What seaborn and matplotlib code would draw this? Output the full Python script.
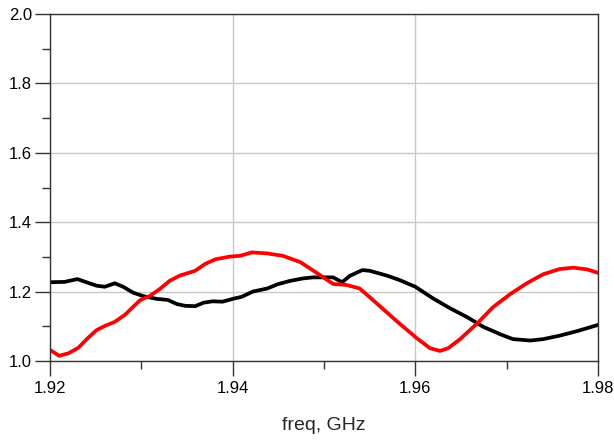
import numpy as np
import pandas as pd
import matplotlib
matplotlib.use("Agg")
import matplotlib.pyplot as plt
import seaborn as sns
from matplotlib.ticker import MultipleLocator

black_freq = [1.9200, 1.9216, 1.9230, 1.9241, 1.9251, 1.9260, 1.9271, 1.9280, 1.9291, 1.9302,
              1.9317, 1.9329, 1.9339, 1.9348, 1.9359, 1.9368, 1.9378, 1.9389, 1.9400, 1.9410,
              1.9422, 1.9438, 1.9449, 1.9463, 1.9477, 1.9488, 1.9510, 1.9520, 1.9528, 1.9542,
              1.9550, 1.9569, 1.9583, 1.9600, 1.9619, 1.9638, 1.9657, 1.9674, 1.9693, 1.9707,
              1.9726, 1.9740, 1.9758, 1.9777, 1.9800]
black_vals = [1.227, 1.228, 1.236, 1.226, 1.217, 1.214, 1.224, 1.214, 1.197, 1.187,
              1.179, 1.176, 1.164, 1.159, 1.158, 1.168, 1.172, 1.171, 1.179, 1.185,
              1.200, 1.209, 1.221, 1.231, 1.238, 1.241, 1.241, 1.227, 1.245, 1.262,
              1.260, 1.246, 1.233, 1.214, 1.181, 1.152, 1.126, 1.099, 1.077, 1.063,
              1.059, 1.063, 1.073, 1.086, 1.104]

red_freq = [1.9200, 1.9210, 1.9220, 1.9231, 1.9241, 1.9251, 1.9260, 1.9271, 1.9282, 1.9291,
            1.9299, 1.9309, 1.9320, 1.9331, 1.9342, 1.9359, 1.9370, 1.9381, 1.9397, 1.9408,
            1.9421, 1.9438, 1.9455, 1.9474, 1.9492, 1.9510, 1.9525, 1.9539, 1.9550, 1.9565,
            1.9583, 1.9602, 1.9616, 1.9627, 1.9636, 1.9649, 1.9668, 1.9685, 1.9704, 1.9722,
            1.9740, 1.9758, 1.9773, 1.9788, 1.9800]
red_vals = [1.032, 1.015, 1.022, 1.038, 1.065, 1.089, 1.101, 1.113, 1.133, 1.156,
            1.176, 1.187, 1.207, 1.231, 1.246, 1.260, 1.280, 1.293, 1.301, 1.303,
            1.313, 1.310, 1.303, 1.285, 1.254, 1.222, 1.219, 1.209, 1.184, 1.149,
            1.107, 1.065, 1.037, 1.029, 1.037, 1.063, 1.109, 1.155, 1.193, 1.224,
            1.250, 1.265, 1.269, 1.264, 1.254]

x_ticks = [1.92, 1.94, 1.96, 1.98]
x_tick_labels = ["1.92", "1.94", "1.96", "1.98"]
y_ticks = [1.0, 1.2, 1.4, 1.6, 1.8, 2.0]
y_tick_labels = ["1.0", "1.2", "1.4", "1.6", "1.8", "2.0"]

sns.set_style("ticks")
plt.rcParams['font.family'] = ['Liberation Sans', 'DejaVu Sans']

df_black = pd.DataFrame({"freq": black_freq, "val": black_vals})
df_red = pd.DataFrame({"freq": red_freq, "val": red_vals})

fig = plt.figure(figsize=(6.14, 4.42), dpi=100)
ax = fig.add_axes([50/614, 81/442, 548/614, 347/442])

sns.lineplot(data=df_black, x="freq", y="val", ax=ax, color="black", linewidth=2.7)
sns.lineplot(data=df_red, x="freq", y="val", ax=ax, color="#ff0000", linewidth=2.7)

ax.set_xlim(1.92, 1.98)
ax.set_ylim(1.0, 2.0)
ax.set_xticks(x_ticks)
ax.set_xticklabels(x_tick_labels)
ax.set_yticks(y_ticks)
ax.set_yticklabels(y_tick_labels)
ax.xaxis.set_minor_locator(MultipleLocator(0.01))
ax.yaxis.set_minor_locator(MultipleLocator(0.1))
ax.grid(True, which="major", color="#c8c8c8", linewidth=1.0)
ax.set_axisbelow(True)
for s in ax.spines.values():
    s.set_visible(True)
    s.set_color("#333333")
    s.set_linewidth(1.0)
ax.tick_params(which="major", direction="out", length=11, width=1.0, color="#333333",
               labelsize=12, labelcolor="black", pad=2)
ax.tick_params(axis="x", which="major", pad=3.5)
ax.tick_params(which="minor", direction="out", length=6, width=1.0, color="#333333")
ax.tick_params(axis="x", which="both", top=False)
ax.tick_params(axis="y", which="both", right=False)
ax.set_xlabel("freq, GHz", fontsize=14, labelpad=15)
ax.set_ylabel("")

fig.savefig("out.png", dpi=100)
